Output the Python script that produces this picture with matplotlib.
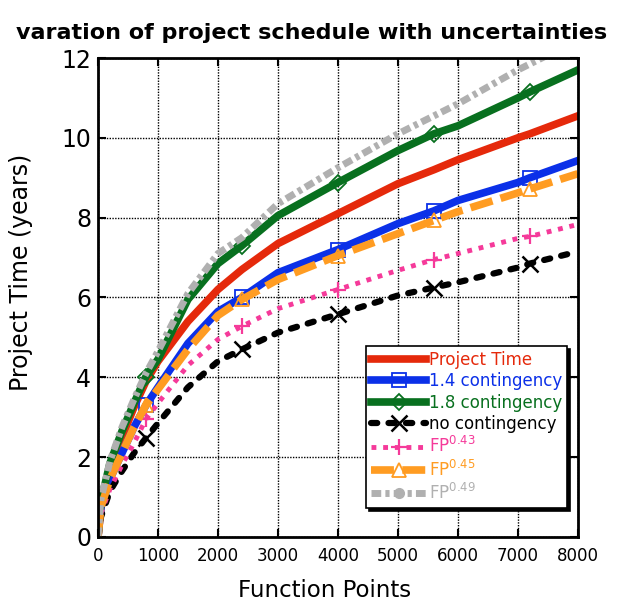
import matplotlib
matplotlib.use("Agg")
import matplotlib.pyplot as plt

plt.rcParams['font.family'] = ['DejaVu Sans']
plt.rcParams['mathtext.fontset'] = 'dejavusans'

# function points (x) and project time in years for each curve
fp = [0, 50, 200, 400, 600, 800, 1000, 1500, 2000, 2400, 3000, 4000, 5000, 5600, 6000, 7000, 7200, 8000]
project_time = [0, 0.75, 1.6, 2.5, 3.25, 3.9, 4.4, 5.4, 6.2, 6.7, 7.35, 8.1, 8.85, 9.2, 9.45, 10.0, 10.1, 10.55]
cont_14 = [0, 0.75, 1.45, 2.1, 2.75, 3.3, 3.75, 4.85, 5.65, 6.0, 6.62, 7.2, 7.85, 8.17, 8.43, 8.88, 9.0, 9.43]
cont_18 = [0, 0.9, 1.85, 2.65, 3.35, 4.02, 4.45, 5.95, 6.85, 7.3, 8.05, 8.88, 9.68, 10.1, 10.3, 11.0, 11.15, 11.7]
no_cont = [0, 0.5, 1.15, 1.65, 2.1, 2.48, 2.85, 3.75, 4.4, 4.7, 5.12, 5.58, 6.05, 6.25, 6.38, 6.75, 6.85, 7.15]
fp_043 = [0, 0.6, 1.2, 1.8, 2.35, 2.95, 3.35, 4.3, 4.95, 5.28, 5.72, 6.2, 6.68, 6.95, 7.1, 7.48, 7.53, 7.83]
fp_045 = [0, 0.75, 1.45, 2.1, 2.75, 3.3, 3.7, 4.7, 5.55, 5.95, 6.45, 7.05, 7.6, 7.93, 8.15, 8.62, 8.72, 9.1]
fp_049 = [0, 0.95, 1.9, 2.75, 3.45, 4.1, 4.65, 6.1, 7.1, 7.5, 8.35, 9.25, 10.1, 10.55, 10.85, 11.7, 11.85, 12.45]

marks = [5, 9, 11, 13, 16]

fig = plt.figure(figsize=(6.24, 6.03), dpi=100)
ax = fig.add_axes([0.157, 0.1095, 0.769, 0.7943])

ax.plot(fp, project_time, color='#e5290b', lw=5.5, label='Project Time')
ax.plot(fp, cont_14, color='#0b30e8', lw=5.5, marker='s', ms=10, mfc='none', mew=1.3,
        markevery=marks, label='1.4 contingency')
ax.plot(fp, cont_18, color='#08701f', lw=5.5, marker='D', ms=8.5, mfc='none', mew=1.3,
        markevery=marks, label='1.8 contingency')
ax.plot(fp, no_cont, color='black', lw=4.5, ls=(0, (1.0, 1.8)), marker='x', ms=11, mew=1.8,
        markevery=marks, label='no contingency', dash_capstyle='round')
ax.plot(fp, fp_043, color='#f53a9a', lw=3.5, ls=(0, (1, 1.4)), marker='+', ms=12, mew=1.6,
        markevery=marks, label=r'FP$^{0.43}$')
ax.plot(fp, fp_045, color='#ff9c22', lw=5.5, ls=(0, (3, 1.1)), marker='^', ms=10, mfc='none', mew=1.3,
        markevery=marks, label=r'FP$^{0.45}$')
# gray markers only show up in the legend
ax.plot(fp, fp_049, color='#b0b0b0', lw=5, ls=(0, (1.4, 0.6, 0.6, 0.6)), marker='o', ms=7,
        markevery=[], label=r'FP$^{0.49}$')

ax.set_xlim(0, 8000)
ax.set_ylim(0, 12)
ax.set_xticks(range(0, 8001, 1000))
ax.set_yticks(range(0, 13, 2))
ax.tick_params(axis='x', labelsize=12, direction='in', top=True, length=6, width=1.5, pad=7)
ax.tick_params(axis='y', labelsize=17, direction='in', right=True, length=6, width=1.5, pad=5)
ax.grid(True, color='black', ls=(0, (1, 1)), lw=1)
for s in ax.spines.values():
    s.set_linewidth(2)

ax.set_xlabel('Function Points', fontsize=16.5)
ax.xaxis.set_label_coords(0.473, -0.088)
ax.set_ylabel('Project Time (years)', fontsize=17)
ax.yaxis.set_label_coords(-0.135, 0.553)
fig.text(0.5, 0.945, 'varation of project schedule with uncertainties', ha='center', va='center',
         fontsize=16, fontweight='bold')

leg = ax.legend(loc='lower right', bbox_to_anchor=(0.977, 0.06), borderaxespad=0, fontsize=12,
                handlelength=3.3, handletextpad=0.15, labelspacing=0.2, borderpad=0.3,
                fancybox=False, framealpha=1, edgecolor='black',
                shadow={'color': 'black', 'alpha': 1})
leg.get_frame().set_linewidth(1.2)
for line, text in zip(leg.get_lines(), leg.get_texts()):
    text.set_color(line.get_color())

fig.savefig('out.png', dpi=100)
